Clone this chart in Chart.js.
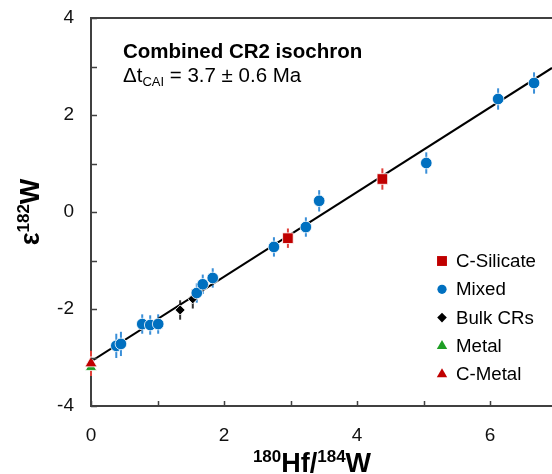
<!DOCTYPE html>
<html lang="en">
<head>
<meta charset="UTF-8">
<title>Combined CR2 isochron</title>
<script src="https://cdn.jsdelivr.net/npm/chart.js"></script>
<style>
  body { margin: 0; background: #fff; }
  #wrap { width: 552px; height: 474px; }
</style>
</head>
<body>
<div id="wrap"><canvas id="isochron" width="552" height="474"></canvas></div>
<script>
// values (x = 180Hf/184W, y = e182W, err = 2 sigma)
var silicateX = [2.96, 4.38];
var silicateY = [-0.54, 0.68];
var silicateErr = [0.2, 0.22];

var mixedX = [0.38, 0.45, 0.77, 0.89, 1.01, 1.59, 1.68, 1.83, 2.75, 3.23, 3.43, 5.04, 6.12, 6.66];
var mixedY = [-2.76, -2.72, -2.31, -2.33, -2.31, -1.67, -1.49, -1.36, -0.72, -0.31, 0.23, 1.01, 2.33, 2.66];
var mixedErr = [0.25, 0.25, 0.2, 0.2, 0.2, 0.2, 0.2, 0.2, 0.2, 0.2, 0.22, 0.22, 0.22, 0.22];

var bulkX = [1.34, 1.53];
var bulkY = [-2.02, -1.79];
var bulkErr = [0.2, 0.2];

var metalX = [0];
var metalY = [-3.2];
var metalErr = [0.08];

var cMetalX = [0];
var cMetalY = [-3.12];
var cMetalErr = [0.26];

// isochron regression line
var fitX = [0, 6.93];
var fitY = [-3.08, 2.97];

var xTicks = [0, 1, 2, 3, 4, 5, 6];
var yTicks = [-4, -3, -2, -1, 0, 1, 2, 3, 4];

function toPoints(xs, ys) {
    return xs.map(function (x, i) { return { x: x, y: ys[i] }; });
}

Chart.defaults.font.family = "'Liberation Sans', Arial, sans-serif";
Chart.defaults.color = '#000';

var FONT = "'Liberation Sans', Arial, sans-serif";

// vertical error bars, drawn under the markers
var errorBars = {
    id: 'errorBars',
    beforeDatasetsDraw: function (chart) {
        var ctx = chart.ctx;
        var xs = chart.scales.x, ys = chart.scales.y;
        chart.data.datasets.forEach(function (ds) {
            if (!ds.errors) return;
            ctx.save();
            ctx.strokeStyle = ds.errorColor;
            ctx.lineWidth = 2;
            ds.data.forEach(function (p, i) {
                var px = xs.getPixelForValue(p.x);
                ctx.beginPath();
                ctx.moveTo(px, ys.getPixelForValue(p.y + ds.errors[i]));
                ctx.lineTo(px, ys.getPixelForValue(p.y - ds.errors[i]));
                ctx.stroke();
            });
            ctx.restore();
        });
    }
};

// inner tick marks, top frame line, axis titles, text box and legend
var decorations = {
    id: 'decorations',
    afterDraw: function (chart) {
        var ctx = chart.ctx;
        var area = chart.chartArea;
        var xs = chart.scales.x, ys = chart.scales.y;
        ctx.save();
        ctx.strokeStyle = '#404040';
        ctx.lineWidth = 1.5;
        ctx.beginPath();
        xTicks.forEach(function (v) {
            var px = Math.round(xs.getPixelForValue(v)) + 0.5;
            ctx.moveTo(px, area.bottom);
            ctx.lineTo(px, area.bottom - 5);
        });
        yTicks.forEach(function (v) {
            var py = Math.round(ys.getPixelForValue(v)) + 0.5;
            ctx.moveTo(area.left, py);
            ctx.lineTo(area.left + 6, py);
        });
        ctx.stroke();
        ctx.lineWidth = 2;
        ctx.beginPath();
        ctx.moveTo(area.left - 1, area.top);
        ctx.lineTo(area.right, area.top);
        ctx.stroke();

        ctx.fillStyle = '#000';
        ctx.textBaseline = 'alphabetic';

        // x title: 180Hf/184W
        var parts = [['180', 'bold 17px ' + FONT, -10], ['Hf/', 'bold 27px ' + FONT, 0],
                     ['184', 'bold 17px ' + FONT, -10], ['W', 'bold 27px ' + FONT, 0]];
        drawRich(ctx, parts, 312, 472, 0);

        // y title: e182W rotated
        ctx.save();
        ctx.translate(39, 212);
        ctx.rotate(-Math.PI / 2);
        var yparts = [['\u03B5', 'bold 27px ' + FONT, 0], ['182', 'bold 17px ' + FONT, -10],
                      ['W', 'bold 27px ' + FONT, 0]];
        drawRich(ctx, yparts, 0, 0, 0);
        ctx.restore();

        // text box
        ctx.textAlign = 'left';
        ctx.font = 'bold 20.5px ' + FONT;
        ctx.fillText('Combined CR2 isochron', 123, 58);
        var line2 = [['\u0394t', '20.5px ' + FONT, 0], ['CAI', '13px ' + FONT, 4],
                     [' = 3.7 \u00B1 0.6 Ma', '20.5px ' + FONT, 0]];
        drawRich(ctx, line2, 123, 82, 1);

        // legend
        var rowY = 261;
        chart.data.datasets.forEach(function (ds) {
            if (!ds.legendRadius) return;
            ctx.fillStyle = ds.backgroundColor;
            Chart.helpers.drawPoint(ctx, {
                pointStyle: ds.pointStyle, radius: ds.legendRadius, rotation: 0, borderWidth: 0
            }, 442, rowY);
            ctx.fillStyle = '#000';
            ctx.font = '18.7px ' + FONT;
            ctx.textAlign = 'left';
            ctx.textBaseline = 'middle';
            ctx.fillText(ds.label, 456, rowY + 1);
            rowY += 28.3;
        });
        ctx.restore();
    }
};

// draws text runs with mixed fonts; align 0 = centred at x, 1 = starting at x
function drawRich(ctx, parts, x, y, align) {
    var total = 0;
    parts.forEach(function (p) { ctx.font = p[1]; total += ctx.measureText(p[0]).width; });
    var cx = align === 0 ? x - total / 2 : x;
    ctx.textAlign = 'left';
    ctx.textBaseline = 'alphabetic';
    parts.forEach(function (p) {
        ctx.font = p[1];
        ctx.fillText(p[0], cx, y + p[2]);
        cx += ctx.measureText(p[0]).width;
    });
}

new Chart(document.getElementById('isochron'), {
    type: 'scatter',
    data: {
        datasets: [
            {
                label: 'C-Silicate', data: toPoints(silicateX, silicateY), errors: silicateErr,
                errorColor: '#E0403A', pointStyle: 'rect', pointRadius: 7.5, legendRadius: 7,
                backgroundColor: '#C00000', borderColor: '#fff', borderWidth: 0.8, clip: false, order: 1
            },
            {
                label: 'Mixed', data: toPoints(mixedX, mixedY), errors: mixedErr,
                errorColor: '#3A8FD8', pointStyle: 'circle', pointRadius: 5.8, legendRadius: 4.6,
                backgroundColor: '#0070C0', borderColor: '#fff', borderWidth: 0.8, clip: false, order: 2
            },
            {
                label: 'Bulk CRs', data: toPoints(bulkX, bulkY), errors: bulkErr,
                errorColor: '#333', pointStyle: 'rectRot', pointRadius: 5, legendRadius: 4.8,
                backgroundColor: '#000', borderColor: '#fff', borderWidth: 0.8, clip: false, order: 3
            },
            {
                label: 'Metal', data: toPoints(metalX, metalY), errors: metalErr,
                errorColor: '#22A02A', pointStyle: 'triangle', pointRadius: 6.5, legendRadius: 6,
                backgroundColor: '#1F9E25', borderColor: '#fff', borderWidth: 0.8, clip: false, order: 5
            },
            {
                label: 'C-Metal', data: toPoints(cMetalX, cMetalY), errors: cMetalErr,
                errorColor: '#E0403A', pointStyle: 'triangle', pointRadius: 7, legendRadius: 6,
                backgroundColor: '#C00000', borderColor: '#fff', borderWidth: 0.8, clip: false, order: 0
            },
            {
                label: 'fit', data: toPoints(fitX, fitY), showLine: true, pointRadius: 0,
                borderColor: '#000', borderWidth: 2, order: 10
            }
        ]
    },
    options: {
        responsive: false,
        animation: false,
        layout: { autoPadding: false, padding: { top: 18, right: 0, left: 0, bottom: 0 } },
        plugins: {
            legend: { display: false },
            tooltip: { enabled: false }
        },
        scales: {
            x: {
                type: 'linear', min: 0, max: 6.93,
                grid: { display: false },
                border: { display: true, color: '#404040', width: 2 },
                ticks: {
                    autoSkip: false, maxRotation: 0, padding: 10,
                    font: { size: 19 }, color: '#111',
                    callback: function (v) { return v % 2 === 0 ? v : ''; }
                },
                afterBuildTicks: function (s) { s.ticks = xTicks.map(function (v) { return { value: v }; }); },
                afterFit: function (s) { s.height = 68; s.paddingLeft = 0; s.paddingRight = 0; }
            },
            y: {
                type: 'linear', min: -4, max: 4,
                grid: { display: false },
                border: { display: true, color: '#404040', width: 2 },
                ticks: {
                    autoSkip: false, padding: 9,
                    font: { size: 19 }, color: '#111',
                    callback: function (v) { return v % 2 === 0 ? v : ''; }
                },
                afterBuildTicks: function (s) { s.ticks = yTicks.map(function (v) { return { value: v }; }); },
                afterFit: function (s) { s.width = 91; s.paddingTop = 0; s.paddingBottom = 0; }
            }
        }
    },
    plugins: [errorBars, decorations]
});
</script>
</body>
</html>
